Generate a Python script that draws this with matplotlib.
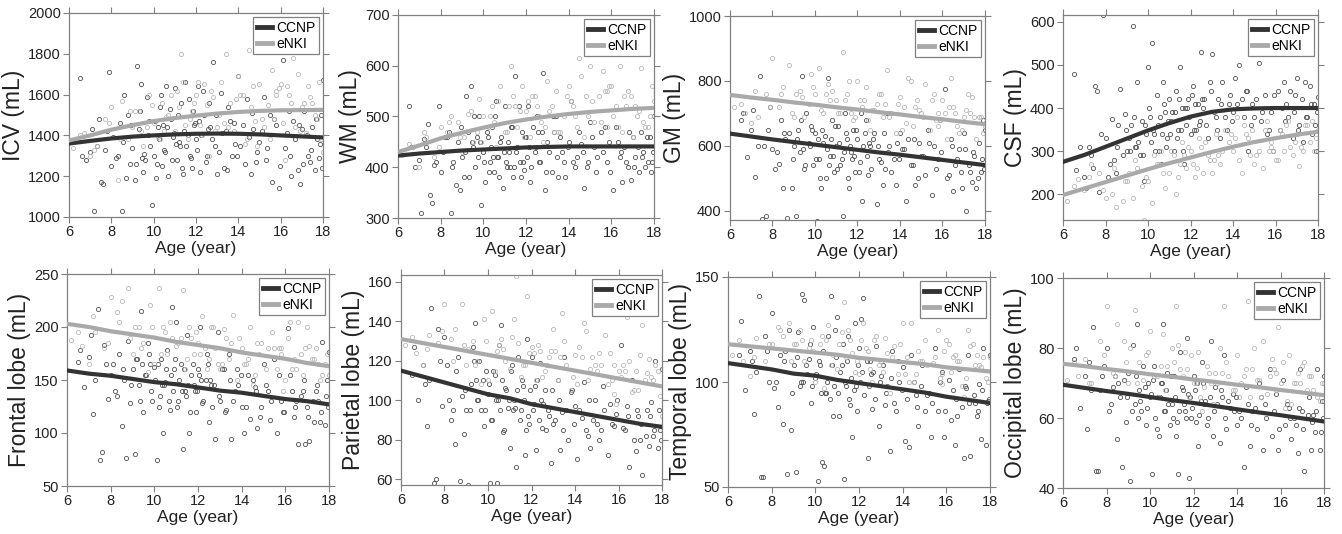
import numpy as np
import matplotlib
matplotlib.use('Agg')
import matplotlib.pyplot as plt

plt.rcParams['font.family'] = ['Liberation Sans', 'DejaVu Sans']

# ages of subjects (shared across panels)
ccnp_age = [6.5, 6.6, 6.8, 7.0, 7.1, 7.2, 7.4, 7.5, 7.6, 7.7,
            7.9, 8.0, 8.1, 8.3, 8.4, 8.5, 8.6, 8.7, 8.8, 8.9,
            9.0, 9.1, 9.2, 9.3, 9.4, 9.5, 9.6, 9.7, 9.8, 9.9,
            10.0, 10.1, 10.2, 10.3, 10.4, 10.5, 10.6, 10.7, 10.8, 10.9,
            11.0, 11.1, 11.2, 11.3, 11.4, 11.5, 11.6, 11.7, 11.8, 11.9,
            12.0, 12.1, 12.2, 12.4, 12.5, 12.6, 12.8, 12.9, 13.0, 13.2,
            13.3, 13.4, 13.5, 13.7, 13.8, 14.0, 14.1, 14.3, 14.4, 14.6,
            14.7, 14.9, 15.0, 15.2, 15.3, 15.5, 15.6, 15.8, 15.9, 16.1,
            16.2, 16.4, 16.5, 16.6, 16.8, 16.9, 17.0, 17.1, 17.3, 17.4,
            17.5, 17.6, 17.7, 17.8, 17.9, 18.0, 9.45, 10.45, 11.25, 12.15,
            7.3, 7.8, 8.2, 8.55, 8.95, 9.15, 9.35, 9.55, 9.75, 9.85,
            10.05, 10.15, 10.25, 10.35, 10.55, 10.65, 10.75, 10.85, 10.95, 11.05,
            11.15, 11.35, 11.45, 11.55, 11.65, 11.75, 11.95, 12.05, 12.25, 12.35,
            12.45, 12.65, 12.75, 12.95, 13.1, 13.25, 13.45, 13.6, 13.85, 13.95,
            14.2, 14.5, 14.65, 14.85, 15.1, 15.35, 15.7, 15.95, 16.3, 16.45,
            16.7, 16.85, 17.05, 17.25, 17.45, 17.65, 17.85, 17.95, 12.55, 11.85]
enki_age = [6.2, 6.7, 7.0, 7.3, 7.7, 8.0, 8.3, 8.5, 8.8, 9.0,
            9.3, 9.5, 9.8, 10.0, 10.2, 10.4, 10.6, 10.8, 11.0, 11.2,
            11.4, 11.6, 11.8, 12.0, 12.2, 12.4, 12.6, 12.8, 13.0, 13.2,
            13.4, 13.6, 13.8, 14.0, 14.2, 14.4, 14.6, 14.8, 15.0, 15.2,
            15.4, 15.6, 15.8, 16.0, 16.2, 16.4, 16.6, 16.8, 17.0, 17.2,
            17.4, 17.6, 17.8, 18.0, 9.7, 11.3, 12.9, 14.5, 15.9, 17.1,
            6.5, 7.2, 7.9, 8.4, 8.9, 9.4, 9.9, 10.3, 10.7, 11.1,
            11.5, 11.9, 12.3, 12.7, 13.1, 13.5, 13.9, 14.3, 14.7, 15.1,
            15.5, 15.8, 16.1, 16.5, 16.9, 17.3, 17.7, 17.9, 10.5, 12.5,
            13.3, 14.1, 14.9, 15.7, 16.3, 16.7, 17.5, 9.1, 11.7, 12.1]

# volumes (mL)
icv_ccnp = [1680, 1300, 1280, 1320, 1430, 1030, 1480, 1170, 1160, 1330,
            1710, 1250, 1390, 1300, 1460, 1030, 1600, 1190, 1500, 1260,
            1340, 1180, 1740, 1430, 1650, 1220, 1280, 1590, 1470, 1060,
            1300, 1190, 1440, 1540, 1250, 1330, 1640, 1200, 1480, 1390,
            1630, 1280, 1370, 1560, 1210, 1660, 1400, 1300, 1240, 1450,
            1380, 1640, 1220, 1500, 1300, 1560, 1760, 1350, 1210, 1610,
            1240, 1420, 1540, 1300, 1460, 1690, 1350, 1260, 1580, 1210,
            1430, 1320, 1370, 1590, 1280, 1500, 1170, 1450, 1140, 1770,
            1340, 1520, 1200, 1470, 1230, 1160, 1430, 1520, 1300, 1270,
            1440, 1230, 1380, 1290, 1500, 1670, 1290, 1450, 1350, 1470,
            1350, 1420, 1290, 1370, 1450, 1260, 1520, 1310, 1400, 1350,
            1470, 1260, 1380, 1600, 1320, 1440, 1530, 1280, 1410, 1360,
            1500, 1240, 1420, 1350, 1580, 1290, 1460, 1330, 1400, 1620,
            1270, 1440, 1380, 1500, 1320, 1410, 1230, 1470, 1360, 1300,
            1450, 1390, 1510, 1270, 1420, 1340, 1480, 1250, 1410, 1300,
            1380, 1450, 1260, 1400, 1330, 1480, 1360, 1240, 1430, 1520]
icv_enki = [1340, 1410, 1300, 1350, 1480, 1540, 1180, 1570, 1380, 1440,
            1520, 1350, 1600, 1460, 1390, 1560, 1490, 1600, 1420, 1540,
            1660, 1380, 1520, 1600, 1450, 1650, 1300, 1590, 1440, 1660,
            1800, 1560, 1420, 1690, 1600, 1380, 1540, 1470, 1650, 1440,
            1550, 1720, 1620, 1650, 1280, 1600, 1780, 1700, 1540, 1410,
            1590, 1500, 1660, 1320, 1440, 1800, 1420, 1820, 1630, 1560,
            1400, 1330, 1460, 1380, 1520, 1420, 1550, 1380, 1500, 1620,
            1450, 1560, 1400, 1620, 1500, 1440, 1580, 1360, 1640, 1480,
            1380, 1600, 1460, 1560, 1420, 1640, 1480, 1380, 1420, 1550,
            1460, 1600, 1350, 1480, 1640, 1440, 1560, 1520, 1480, 1660]
wm_ccnp = [520, 440, 400, 415, 310, 455, 485, 345, 330, 405,
           520, 390, 430, 460, 470, 310, 410, 365, 450, 355,
           420, 380, 540, 470, 560, 440, 400, 460, 500, 325,
           430, 370, 460, 410, 480, 390, 530, 420, 450, 360,
           520, 400, 430, 480, 380, 580, 440, 410, 470, 395,
           460, 520, 370, 430, 500, 410, 585, 355, 450, 390,
           470, 500, 380, 430, 410, 450, 530, 400, 420, 445,
           360, 410, 490, 440, 390, 470, 430, 410, 450, 355,
           480, 420, 370, 440, 400, 375, 460, 420, 390, 470,
           430, 400, 410, 460, 410, 500, 450, 420, 400, 440,
           440, 410, 460, 400, 480, 430, 380, 500, 420, 450,
           410, 470, 390, 440, 500, 420, 380, 460, 430, 410,
           450, 480, 400, 430, 520, 380, 460, 420, 400, 480,
           440, 410, 470, 390, 430, 500, 420, 460, 380, 440,
           410, 470, 430, 400, 460, 420, 480, 390, 450, 430,
           410, 470, 400, 440, 420, 460, 390, 430, 470, 410]
wm_enki = [425, 440, 400, 460, 420, 480, 470, 500, 490, 430,
           505, 450, 535, 500, 480, 520, 440, 560, 470, 520,
           540, 480, 560, 510, 460, 540, 500, 450, 570, 520,
           550, 470, 500, 560, 520, 480, 580, 540, 600, 490,
           540, 590, 480, 560, 520, 600, 540, 550, 460, 500,
           595, 480, 500, 530, 470, 600, 480, 615, 560, 520,
           445, 470, 440, 490, 460, 510, 450, 500, 530, 470,
           520, 460, 540, 490, 510, 470, 540, 500, 460, 530,
           490, 550, 500, 470, 540, 510, 480, 560, 490, 520,
           470, 530, 500, 550, 480, 520, 490, 460, 510, 530]
gm_ccnp = [680, 700, 565, 650, 710, 505, 815, 375, 600, 385,
           720, 590, 530, 545, 680, 470, 620, 378, 640, 470,
           600, 385, 650, 580, 815, 530, 700, 610, 660, 540,
           640, 370, 560, 470, 610, 500, 810, 570, 680, 520,
           600, 660, 540, 385, 700, 620, 470, 580, 650, 520,
           620, 550, 430, 680, 510, 600, 640, 420, 560, 480,
           530, 700, 600, 560, 480, 640, 590, 430, 620, 540,
           480, 610, 570, 510, 650, 450, 600, 560, 680, 775,
           500, 620, 460, 540, 590, 470, 640, 400, 520, 490,
           570, 470, 610, 520, 680, 650, 590, 630, 560, 700,
           600, 650, 580, 640, 560, 620, 680, 540, 600, 650,
           560, 620, 500, 650, 590, 540, 620, 570, 660, 530,
           610, 580, 640, 500, 600, 560, 650, 520, 600, 640,
           570, 530, 620, 600, 550, 640, 580, 520, 610, 560,
           590, 540, 620, 500, 570, 610, 530, 580, 510, 600,
           560, 520, 590, 540, 580, 500, 560, 530, 610, 570]
gm_enki = [720, 700, 670, 690, 760, 870, 720, 780, 850, 690,
           770, 690, 820, 760, 840, 700, 790, 770, 740, 700,
           740, 800, 680, 800, 720, 780, 650, 710, 760, 690,
           835, 700, 640, 750, 720, 810, 660, 740, 700, 790,
           650, 760, 700, 740, 620, 810, 700, 640, 690, 760,
           750, 620, 690, 660, 730, 890, 730, 800, 680, 710,
           730, 770, 720, 760, 700, 750, 780, 710, 740, 700,
           760, 690, 740, 710, 760, 690, 730, 670, 720, 690,
           740, 660, 700, 720, 650, 700, 690, 640, 760, 680,
           730, 650, 710, 680, 720, 660, 690, 760, 700, 740]
csf_ccnp = [480, 255, 310, 240, 215, 310, 260, 450, 440, 205,
            615, 330, 240, 375, 280, 250, 360, 445, 290, 385,
            300, 330, 360, 590, 310, 460, 290, 370, 230, 340,
            495, 380, 550, 340, 430, 300, 270, 460, 390, 330,
            420, 370, 300, 440, 350, 495, 400, 270, 360, 420,
            340, 450, 410, 360, 530, 400, 330, 460, 525, 380,
            420, 330, 460, 350, 410, 390, 470, 500, 420, 440,
            300, 410, 380, 505, 370, 430, 340, 390, 300, 440,
            350, 460, 410, 380, 330, 430, 470, 360, 320, 460,
            380, 450, 340, 410, 300, 425, 310, 360, 390, 350,
            290, 340, 270, 310, 350, 300, 380, 320, 290, 360,
            400, 320, 350, 300, 380, 340, 410, 310, 370, 340,
            390, 330, 420, 350, 300, 400, 380, 430, 350, 410,
            370, 420, 360, 440, 390, 350, 410, 380, 430, 370,
            410, 380, 440, 360, 420, 390, 350, 430, 400, 370,
            440, 390, 350, 420, 380, 410, 360, 390, 420, 400]
csf_enki = [185, 235, 210, 270, 250, 190, 200, 170, 185, 230,
            190, 260, 140, 230, 180, 270, 300, 215, 250, 290,
            240, 320, 260, 300, 240, 330, 250, 290, 250, 340,
            270, 350, 320, 300, 380, 250, 340, 290, 270, 300,
            260, 370, 320, 280, 350, 300, 370, 290, 340, 310,
            360, 320, 300, 350, 220, 200, 280, 360, 300, 265,
            220, 240, 210, 260, 230, 280, 240, 290, 250, 300,
            270, 310, 260, 320, 280, 300, 340, 280, 330, 290,
            350, 310, 280, 360, 320, 300, 370, 330, 270, 310,
            290, 330, 350, 300, 340, 310, 360, 250, 290, 270]
frontal_ccnp = [167, 178, 143, 172, 192, 118, 217, 75, 82, 183,
                132, 155, 165, 135, 175, 107, 150, 76, 187, 128,
                160, 80, 170, 145, 215, 120, 155, 185, 165, 130,
                162, 75, 125, 170, 100, 148, 178, 122, 219, 160,
                205, 130, 165, 85, 140, 192, 100, 155, 145, 120,
                160, 200, 128, 175, 110, 145, 94, 195, 130, 160,
                122, 175, 94, 140, 160, 125, 100, 155, 113, 143,
                105, 125, 165, 140, 112, 170, 100, 130, 120, 199,
                155, 115, 130, 90, 140, 90, 125, 92, 110, 140,
                130, 110, 186, 108, 150, 176, 165, 145, 140, 150,
                150, 165, 140, 160, 145, 170, 130, 155, 175, 140,
                150, 165, 135, 145, 160, 130, 155, 140, 170, 125,
                150, 160, 135, 145, 120, 165, 140, 155, 130, 150,
                165, 125, 145, 135, 160, 120, 150, 130, 145, 155,
                125, 150, 140, 115, 145, 130, 155, 120, 140, 125,
                135, 150, 115, 130, 145, 120, 135, 125, 150, 140]
frontal_enki = [188, 182, 165, 195, 180, 228, 214, 225, 237, 175,
                200, 185, 221, 165, 237, 200, 175, 190, 182, 190,
                160, 200, 175, 185, 210, 160, 200, 180, 160, 198,
                170, 211, 150, 180, 165, 200, 155, 175, 215, 180,
                195, 160, 180, 150, 205, 170, 205, 155, 200, 170,
                180, 150, 165, 155, 158, 235, 165, 145, 140, 182,
                195, 210, 185, 205, 190, 180, 200, 175, 205, 185,
                170, 195, 180, 200, 165, 185, 190, 170, 185, 160,
                180, 175, 190, 160, 180, 170, 155, 175, 195, 170,
                190, 165, 185, 180, 160, 175, 165, 200, 190, 175]
parietal_ccnp = [113, 127, 100, 118, 108, 87, 147, 58, 60, 136,
                 97, 132, 118, 90, 95, 78, 122, 59, 102, 83,
                 95, 57, 108, 127, 139, 100, 120, 95, 87, 115,
                 103, 58, 90, 113, 58, 128, 138, 84, 106, 96,
                 76, 118, 100, 66, 122, 95, 107, 72, 131, 88,
                 122, 98, 75, 119, 86, 105, 92, 68, 88, 110,
                 75, 94, 122, 80, 104, 97, 70, 91, 109, 82,
                 76, 100, 88, 85, 107, 72, 98, 87, 93, 128,
                 86, 97, 66, 110, 74, 92, 80, 62, 95, 77,
                 99, 82, 120, 76, 85, 116, 110, 100, 96, 107,
                 110, 120, 100, 115, 105, 95, 120, 100, 110, 95,
                 108, 90, 115, 100, 95, 110, 85, 105, 100, 115,
                 95, 105, 90, 110, 100, 85, 105, 95, 110, 90,
                 100, 85, 95, 105, 90, 100, 85, 95, 105, 88,
                 95, 85, 100, 90, 80, 95, 88, 100, 85, 92,
                 80, 95, 88, 82, 92, 85, 95, 80, 98, 92]
parietal_enki = [128, 124, 118, 133, 129, 149, 131, 136, 149, 118,
                 130, 120, 141, 110, 145, 125, 131, 120, 116, 141,
                 129, 118, 153, 127, 110, 125, 115, 122, 136, 110,
                 144, 118, 105, 123, 127, 139, 110, 122, 115, 118,
                 133, 124, 103, 115, 118, 142, 104, 115, 123, 110,
                 121, 110, 115, 92, 108, 163, 125, 135, 98, 138,
                 132, 126, 135, 120, 128, 118, 130, 115, 126, 132,
                 112, 124, 128, 118, 125, 130, 112, 122, 116, 124,
                 108, 118, 112, 120, 105, 114, 118, 102, 128, 112,
                 122, 108, 118, 110, 115, 105, 112, 126, 118, 124]
temporal_ccnp = [113, 129, 96, 115, 110, 85, 141, 55, 55, 122,
                 100, 133, 97, 88, 113, 80, 115, 56, 125, 77,
                 108, 57, 124, 98, 142, 139, 104, 111, 90, 126,
                 102, 53, 108, 62, 60, 95, 122, 141, 84, 125,
                 131, 84, 108, 54, 98, 122, 89, 74, 128, 86,
                 116, 130, 140, 64, 110, 87, 117, 79, 103, 89,
                 98, 67, 115, 86, 110, 107, 72, 69, 113, 94,
                 79, 108, 86, 95, 74, 116, 86, 105, 74, 101,
                 82, 70, 84, 106, 64, 97, 113, 65, 90, 84,
                 99, 73, 116, 70, 91, 113, 100, 95, 118, 105,
                 105, 115, 100, 110, 95, 112, 100, 108, 118, 98,
                 104, 110, 95, 115, 100, 92, 108, 98, 112, 95,
                 105, 100, 110, 92, 102, 96, 108, 100, 94, 110,
                 98, 105, 92, 100, 108, 95, 102, 90, 100, 96,
                 92, 100, 88, 98, 94, 90, 100, 86, 96, 92,
                 88, 98, 90, 94, 86, 96, 90, 92, 104, 98]
temporal_enki = [113, 110, 103, 121, 110, 118, 126, 122, 128, 118,
                 125, 110, 120, 100, 118, 97, 127, 113, 106, 124,
                 112, 120, 105, 104, 128, 115, 100, 122, 110, 121,
                 95, 117, 104, 128, 112, 128, 104, 110, 120, 135,
                 109, 125, 99, 120, 105, 113, 110, 93, 125, 118,
                 113, 107, 102, 112, 116, 138, 108, 100, 115, 117,
                 120, 112, 118, 125, 110, 120, 115, 122, 108, 118,
                 125, 110, 116, 120, 105, 112, 118, 100, 115, 108,
                 112, 104, 118, 110, 102, 108, 112, 100, 120, 106,
                 114, 104, 110, 102, 112, 98, 108, 118, 114, 120]
occipital_ccnp = [77, 80, 63, 72, 57, 76, 86, 45, 45, 68,
                  75, 80, 62, 69, 72, 54, 66, 46, 71, 59,
                  73, 42, 81, 64, 87, 68, 62, 75, 58, 70,
                  66, 44, 75, 57, 55, 70, 87, 62, 73, 58,
                  64, 72, 55, 44, 79, 68, 62, 83, 43, 60,
                  72, 59, 52, 76, 64, 58, 82, 55, 69, 53,
                  66, 78, 57, 63, 67, 58, 62, 46, 69, 52,
                  62, 57, 70, 51, 64, 74, 55, 67, 51, 71,
                  58, 63, 54, 60, 50, 74, 62, 45, 66, 51,
                  61, 56, 74, 51, 65, 72, 60, 66, 59, 70,
                  68, 72, 64, 70, 66, 62, 72, 65, 69, 63,
                  67, 71, 60, 66, 70, 62, 68, 64, 72, 60,
                  66, 62, 69, 64, 60, 67, 63, 68, 61, 65,
                  70, 60, 66, 62, 64, 68, 60, 65, 62, 66,
                  60, 64, 58, 63, 66, 60, 62, 57, 64, 60,
                  58, 63, 57, 61, 59, 62, 56, 60, 65, 66]
occipital_enki = [71, 72, 77, 70, 82, 92, 73, 87, 82, 70,
                  91, 76, 78, 85, 72, 66, 84, 75, 80, 92,
                  74, 79, 66, 70, 79, 62, 75, 70, 73, 80,
                  92, 72, 68, 78, 70, 74, 66, 80, 71, 82,
                  67, 77, 73, 70, 63, 78, 70, 73, 75, 68,
                  72, 89, 65, 70, 71, 81, 64, 93.5, 86, 76,
                  76, 70, 78, 72, 76, 70, 79, 72, 68, 76,
                  72, 78, 66, 73, 70, 76, 68, 72, 74, 66,
                  72, 68, 76, 64, 70, 72, 66, 70, 75, 69,
                  73, 66, 71, 74, 65, 70, 68, 80, 74, 70]

# fitted growth curves, read at ages 6..18
fit_age = [6, 7, 8, 9, 10, 11, 12, 13, 14, 15, 16, 17, 18]
icv_fit_ccnp = [1360, 1373, 1385, 1394, 1400, 1405, 1408, 1409, 1408, 1405, 1400, 1395, 1390]
icv_fit_enki = [1375, 1400, 1428, 1450, 1470, 1485, 1497, 1507, 1515, 1520, 1523, 1524, 1525]
wm_fit_ccnp = [423, 427, 430, 433, 435, 437, 439, 440, 441, 441, 441, 441, 441]
wm_fit_enki = [430, 443, 457, 468, 478, 487, 494, 500, 505, 509, 512, 515, 517]
gm_fit_ccnp = [638, 629, 620, 612, 604, 596, 588, 580, 573, 565, 557, 549, 541]
gm_fit_enki = [757, 749, 742, 734, 727, 719, 712, 704, 697, 689, 682, 674, 667]
csf_fit_ccnp = [275, 291, 310, 329, 348, 365, 380, 391, 397, 399, 400, 400, 400]
csf_fit_enki = [198, 213, 228, 243, 258, 272, 285, 298, 310, 321, 330, 338, 345]
frontal_fit_ccnp = [159, 156, 154, 151, 148, 146, 143, 140, 138, 135, 132, 130, 127]
frontal_fit_enki = [203, 200, 196, 193, 190, 186, 183, 180, 176, 173, 170, 166, 163]
parietal_fit_ccnp = [115, 112, 109, 106, 103, 101, 98, 96, 94, 92, 90, 88, 86.5]
parietal_fit_enki = [131, 129, 127, 125, 123, 121, 119, 117, 115, 113, 111, 109, 107]
temporal_fit_ccnp = [109, 107.5, 106, 104, 103, 101, 99.5, 98, 96.5, 95, 93, 91.5, 90]
temporal_fit_enki = [118, 117, 116, 115, 114, 113, 111.5, 110.5, 109.5, 108.5, 107, 106, 105]
occipital_fit_ccnp = [69.5, 68.6, 67.7, 66.9, 66, 65.1, 64.3, 63.4, 62.5, 61.6, 60.8, 59.9, 59]
occipital_fit_enki = [75.5, 74.8, 74, 73.3, 72.5, 71.8, 71, 70.3, 69.5, 68.8, 68, 67.3, 66.5]

ylabels = ['ICV (mL)', 'WM (mL)', 'GM (mL)', 'CSF (mL)',
           'Frontal lobe (mL)', 'Parietal lobe (mL)', 'Temporal lobe (mL)', 'Occipital lobe (mL)']
ccnp_vals = [icv_ccnp, wm_ccnp, gm_ccnp, csf_ccnp, frontal_ccnp, parietal_ccnp, temporal_ccnp, occipital_ccnp]
enki_vals = [icv_enki, wm_enki, gm_enki, csf_enki, frontal_enki, parietal_enki, temporal_enki, occipital_enki]
ccnp_fits = [icv_fit_ccnp, wm_fit_ccnp, gm_fit_ccnp, csf_fit_ccnp,
             frontal_fit_ccnp, parietal_fit_ccnp, temporal_fit_ccnp, occipital_fit_ccnp]
enki_fits = [icv_fit_enki, wm_fit_enki, gm_fit_enki, csf_fit_enki,
             frontal_fit_enki, parietal_fit_enki, temporal_fit_enki, occipital_fit_enki]

# axis ranges and ticks
ylims = [(1000, 2000), (300, 700), (372, 1000), (140, 616),
         (50, 250), (57, 163.5), (50, 150), (40, 100)]
yticks = [np.arange(1000, 2001, 200), np.arange(300, 701, 100), np.arange(400, 1001, 200),
          np.arange(200, 601, 100), np.arange(50, 251, 50), np.arange(60, 161, 20),
          np.arange(50, 151, 50), np.arange(40, 101, 20)]

# panel boxes in pixels: left, top, right, bottom
W, H = 1342, 534
boxes = [(69, 13, 323, 217), (398, 15, 654, 218), (730, 16, 985, 220), (1063, 15, 1318, 220),
         (67, 274, 329, 486), (401, 275, 662, 485), (728, 277, 990, 487), (1063, 278, 1324, 488)]

fig = plt.figure(figsize=(W / 100, H / 100), dpi=100)
spine_col = '#808080'
c_dark = '#333333'
c_light = '#a9a9a9'

for i in range(8):
    l, t, r, b = boxes[i]
    ax = fig.add_axes([l / W, 1 - b / H, (r - l) / W, (b - t) / H])
    ax.plot(ccnp_age, ccnp_vals[i], 'o', ms=3.0, mfc='none', mec='#505050', mew=0.6, zorder=2)
    ax.plot(enki_age, enki_vals[i], 'o', ms=3.0, mfc='none', mec='#b8b8b8', mew=0.6, zorder=2)
    ax.plot(fit_age, ccnp_fits[i], color=c_dark, lw=3, label='CCNP', zorder=3)
    ax.plot(fit_age, enki_fits[i], color=c_light, lw=3, label='eNKI', zorder=3)
    ax.set_xlim(6, 18)
    ax.set_ylim(*ylims[i])
    ax.set_xticks(np.arange(6, 19, 2))
    ax.set_yticks(yticks[i])
    ax.tick_params(direction='out', top=True, right=True, length=4, width=0.8,
                   color=spine_col, labelsize=10.5, labelcolor='#222222', pad=2)
    for s in ax.spines.values():
        s.set_color(spine_col)
        s.set_linewidth(0.9)
    ax.set_xlabel('Age (year)', fontsize=12.5, color='#222222', labelpad=1)
    ax.set_ylabel(ylabels[i], fontsize=16.5, color='#222222', labelpad=2)
    leg = ax.legend(loc='upper right', fontsize=10, handlelength=1.1, handletextpad=0.3,
                    borderpad=0.25, labelspacing=0.15, borderaxespad=0.3,
                    fancybox=False, framealpha=1)
    leg.get_frame().set_edgecolor(spine_col)
    leg.get_frame().set_linewidth(0.9)
    for line in leg.get_lines():
        line.set_linewidth(3.5)

fig.savefig('out.png', dpi=100)
